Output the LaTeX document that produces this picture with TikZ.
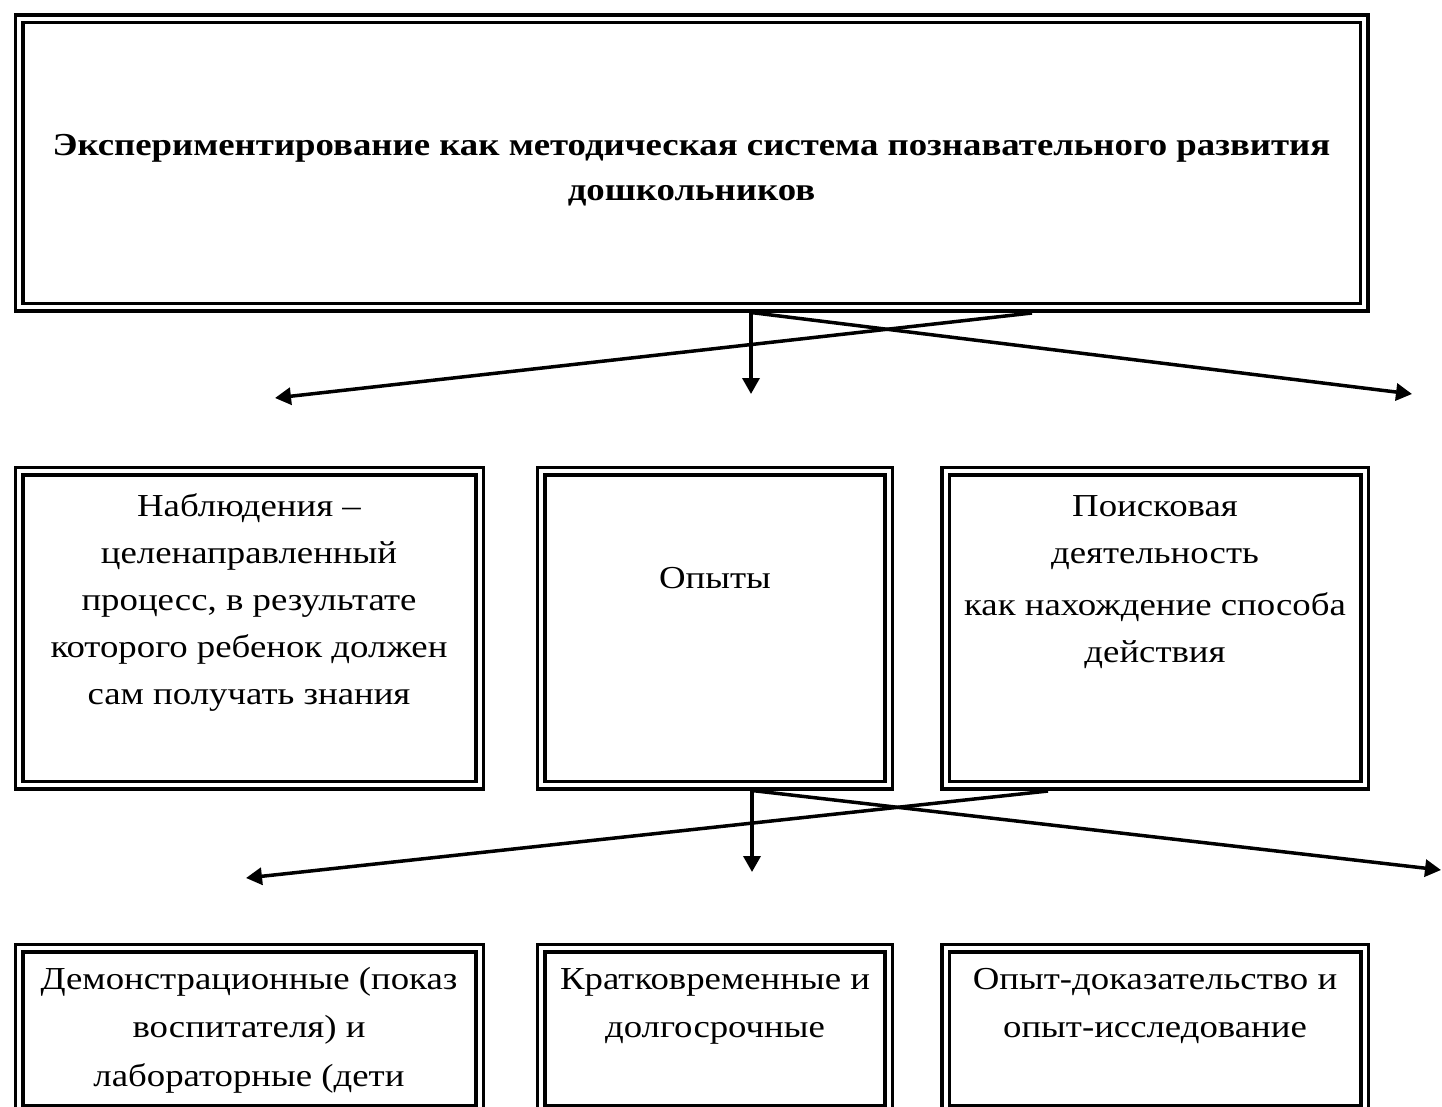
\documentclass[tikz,border=0pt]{standalone}
\usepackage{fontspec}
\setmainfont{Liberation Serif}[FakeStretch=1.15]
\usetikzlibrary{arrows.meta}
\begin{document}
\begin{tikzpicture}[x=1pt,y=-1pt,
  frame/.style={draw, double, line width=3.5pt, double distance=4pt, inner sep=0pt, outer sep=0pt, anchor=north west},
  txt/.style={font=\fontsize{32}{47}\selectfont, align=center, inner sep=0pt, anchor=north},
  txtb/.style={font=\fontsize{32}{48.5}\selectfont, align=center, inner sep=0pt, anchor=north},
  ttl/.style={font=\fontsize{32}{45}\selectfont\bfseries, align=center, inner sep=0pt, anchor=north},
  conn/.style={line width=3.5pt, -{Triangle[length=16pt,width=17pt]}}]
\useasboundingbox (0,0) rectangle (1442,1107);
\clip (0,0) rectangle (1442,1107);
% boxes
\node[frame, minimum width=1345pt, minimum height=288pt] (top) at (19,19) {};
\node[frame, minimum width=460.5pt, minimum height=313.7pt] (m1) at (19,471.3) {};
\node[frame, minimum width=347.7pt, minimum height=313.7pt] (m2) at (541,471.3) {};
\node[frame, minimum width=419pt, minimum height=313.7pt] (m3) at (945.5,471.3) {};
\node[frame, minimum width=460.5pt, minimum height=160.7pt] (b1) at (19,948.3) {};
\node[frame, minimum width=347.7pt, minimum height=160.7pt] (b2) at (541,948.3) {};
\node[frame, minimum width=419pt, minimum height=160.7pt] (b3) at (945.5,948.3) {};
% texts
\node[ttl] (ttop) at (691.5,123.5) {\strut Экспериментирование как методическая система познавательного развития\\дошкольников};
\node[txt] (tm1) at (249,483.5) {\strut Наблюдения –\\целенаправленный\\процесс, в результате\\которого ребенок должен\\сам получать знания};
\node[txt] (tm2) at (715,555.5) {\strut Опыты};
\node[txt] (tm3) at (1155,483.5) {\strut Поисковая\\деятельность\\[5pt]как нахождение способа\\действия};
\node[txtb] (tb1) at (249,955.1) {\strut Демонстрационные (показ\\воспитателя) и\\лабораторные (дети};
\node[txtb] (tb2) at (715,955.1) {\strut Кратковременные и\\долгосрочные};
\node[txtb] (tb3) at (1155,955.1) {\strut Опыт-доказательство и\\опыт-исследование};
% connector end points
\coordinate (s1v) at (751,312.5);
\coordinate (s1l) at (1032,313);
\coordinate (e1v) at (751,394);
\coordinate (e1l) at (275,398);
\coordinate (e1r) at (1412,394);
\coordinate (s2v) at (752,790.5);
\coordinate (s2l) at (1048,791);
\coordinate (e2v) at (752,872);
\coordinate (e2l) at (246,878);
\coordinate (e2r) at (1441,870);
% connectors
\draw[conn] (s1v) -- (e1v);
\draw[conn] (s1l) -- (e1l);
\draw[conn] (s1v) -- (e1r);
\draw[conn] (s2v) -- (e2v);
\draw[conn] (s2l) -- (e2l);
\draw[conn] (s2v) -- (e2r);
\end{tikzpicture}
\end{document}
